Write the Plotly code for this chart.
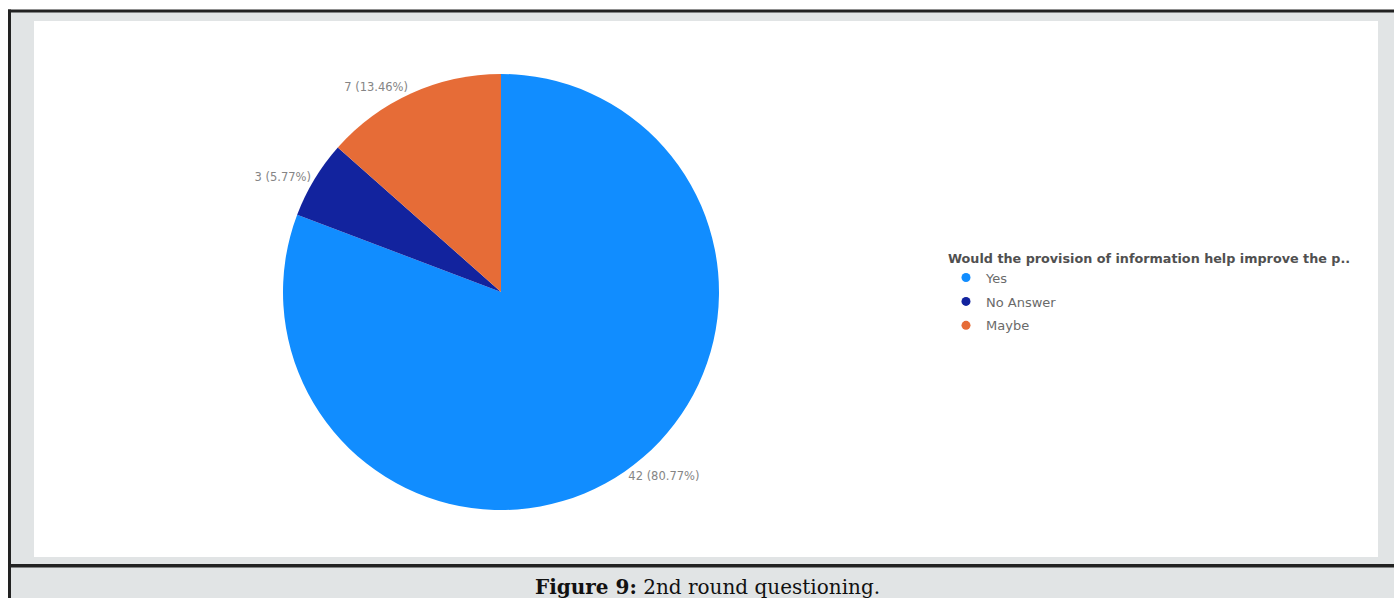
import plotly.graph_objects as go

# ---- data ----
categories = ["Yes", "No Answer", "Maybe"]
counts = [42, 3, 7]
colors = ["#118DFF", "#12239E", "#E66C37"]
legend_title = "Would the provision of information help improve the p.."
caption = "<b>Figure 9:</b> 2nd round questioning."

W, H = 1394, 598


def px(x):
    return x / W


def py(y):
    return 1 - y / H


fig = go.Figure()

# pie centre ~ (501, 292) px, radius ~ 218 px
cx, cy, r = 501, 292, 218
fig.add_trace(go.Pie(
    labels=categories,
    values=counts,
    marker=dict(colors=colors, line=dict(width=0)),
    sort=False,
    direction="clockwise",
    rotation=0,
    textposition="outside",
    texttemplate="%{value} (%{percent:.2%})",
    textfont=dict(family="DejaVu Sans", size=11.5, color="#858585"),
    showlegend=False,
    hoverinfo="label+value+percent",
    domain=dict(x=[px(cx - r), px(cx + r)], y=[py(cy + r), py(cy - r)]),
))

# legend entries with circular markers
for i, (cat, col) in enumerate(zip(categories, colors)):
    fig.add_trace(go.Scatter(
        x=[None], y=[None], mode="markers", name=cat,
        marker=dict(symbol="circle", size=9, color=col),
        legendgroup=f"g{i}", showlegend=True,
    ))

shapes = [
    # grey frame background
    dict(type="rect", xref="paper", yref="paper", x0=px(10), x1=px(W), y0=py(H), y1=py(11),
         fillcolor="#e1e4e5", line=dict(width=0), layer="below"),
    # white panel
    dict(type="rect", xref="paper", yref="paper", x0=px(34), x1=px(1378), y0=py(557), y1=py(21),
         fillcolor="#ffffff", line=dict(width=0), layer="below"),
    # top border
    dict(type="rect", xref="paper", yref="paper", x0=px(8), x1=px(W), y0=py(12.5), y1=py(9.5),
         fillcolor="#222222", line=dict(width=0), layer="below"),
    # left border
    dict(type="rect", xref="paper", yref="paper", x0=px(8), x1=px(11), y0=py(H), y1=py(9.5),
         fillcolor="#222222", line=dict(width=0), layer="below"),
    # caption separator
    dict(type="rect", xref="paper", yref="paper", x0=px(8), x1=px(W), y0=py(567.5), y1=py(564),
         fillcolor="#222222", line=dict(width=0), layer="below"),
]

fig.update_layout(
    width=W, height=H,
    margin=dict(l=0, r=0, t=0, b=0),
    paper_bgcolor="#ffffff",
    plot_bgcolor="rgba(0,0,0,0)",
    xaxis=dict(visible=False),
    yaxis=dict(visible=False),
    shapes=shapes,
    legend=dict(
        title=dict(text="<b>" + legend_title + "</b>",
                   font=dict(family="DejaVu Sans", size=12.75, color="#505050")),
        font=dict(family="DejaVu Sans", size=13, color="#6a6a6a"),
        x=px(946), y=py(246), xanchor="left", yanchor="top",
        traceorder="grouped", tracegroupgap=4,
        itemwidth=30,
        bgcolor="rgba(0,0,0,0)",
    ),
    annotations=[dict(
        text=caption, x=px(707), y=py(587), xref="paper", yref="paper",
        xanchor="center", yanchor="middle", showarrow=False,
        font=dict(family="DejaVu Serif", size=20, color="#111111"),
    )],
)

fig.write_html("out.html")
